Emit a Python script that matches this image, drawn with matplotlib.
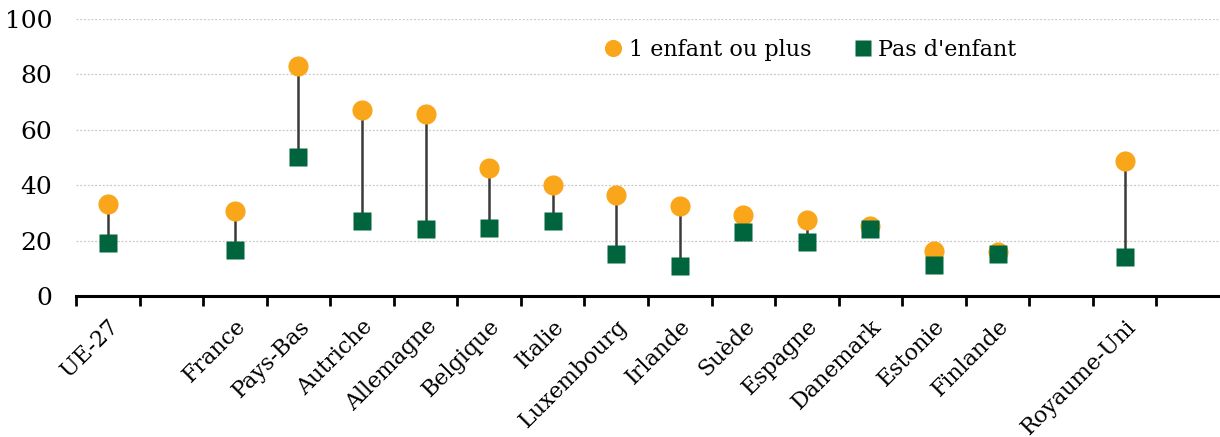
import numpy as np
import matplotlib.pyplot as plt

# categories ("" = empty slot on the axis)
pays = ['UE-27', '', 'France', 'Pays-Bas', 'Autriche', 'Allemagne', 'Belgique', 'Italie',
        'Luxembourg', 'Irlande', 'Suède', 'Espagne', 'Danemark', 'Estonie', 'Finlande',
        '', 'Royaume-Uni', '']
avec_enfant = [33.2, np.nan, 30.8, 83.2, 67.3, 65.6, 46.2, 40.2, 36.5, 32.6, 29.2, 27.6,
               25.1, 16.3, 15.8, np.nan, 48.8, np.nan]
sans_enfant = [19.1, np.nan, 16.5, 50.3, 27.1, 24.1, 24.5, 27.2, 15.2, 10.8, 23.0, 19.4,
               24.2, 11.2, 15.0, np.nan, 14.1, np.nan]

orange = '#F9A61A'
vert = '#00643C'

plt.rcParams['font.family'] = ['DejaVu Serif']

fig = plt.figure(figsize=(12.2, 4.37), dpi=100)
ax = fig.add_axes([0.0623, 0.3227, 0.9377, 0.6338])

x = np.arange(len(pays))
a = np.array(avec_enfant)
s = np.array(sans_enfant)
ok = ~np.isnan(a)

ax.vlines(x[ok], s[ok], a[ok], color='#3A3A3A', lw=1.8, zorder=2)
ax.plot(x[ok], a[ok], 'o', color=orange, ms=14.5, mec='none', zorder=3, label='1 enfant ou plus')
ax.plot(x[ok], s[ok], 's', color=vert, ms=13.5, mec='none', zorder=4, label="Pas d'enfant")

ax.set_xlim(-0.5, len(pays) - 0.5)
ax.set_ylim(0, 100)
ax.set_yticks(range(0, 101, 20))
ax.grid(axis='y', color='#C8C8C8', linestyle=(0, (1.5, 1.5)), lw=0.9)
ax.set_axisbelow(True)

for sp in ['left', 'right', 'top']:
    ax.spines[sp].set_visible(False)
ax.spines['bottom'].set_linewidth(2.2)
ax.spines['bottom'].set_zorder(5)

ax.set_xticks(x[ok])
ax.set_xticklabels([p for p, k in zip(pays, ok) if k], rotation=45, ha='right',
                   rotation_mode='anchor', fontsize=16)
ax.set_xticks(np.arange(-0.5, len(pays) - 0.5, 1), minor=True)
ax.tick_params(axis='x', which='major', length=0, pad=14)
ax.tick_params(axis='x', which='minor', length=7, width=2, color='black')
ax.tick_params(axis='y', length=0, labelsize=18, pad=17)

ax.legend(loc='upper center', bbox_to_anchor=(0.64, 1.0), ncol=2, frameon=False,
          fontsize=16, handletextpad=0.1, columnspacing=1.7, markerscale=0.85,
          handlelength=1.2)

fig.savefig('out.png', dpi=100)
